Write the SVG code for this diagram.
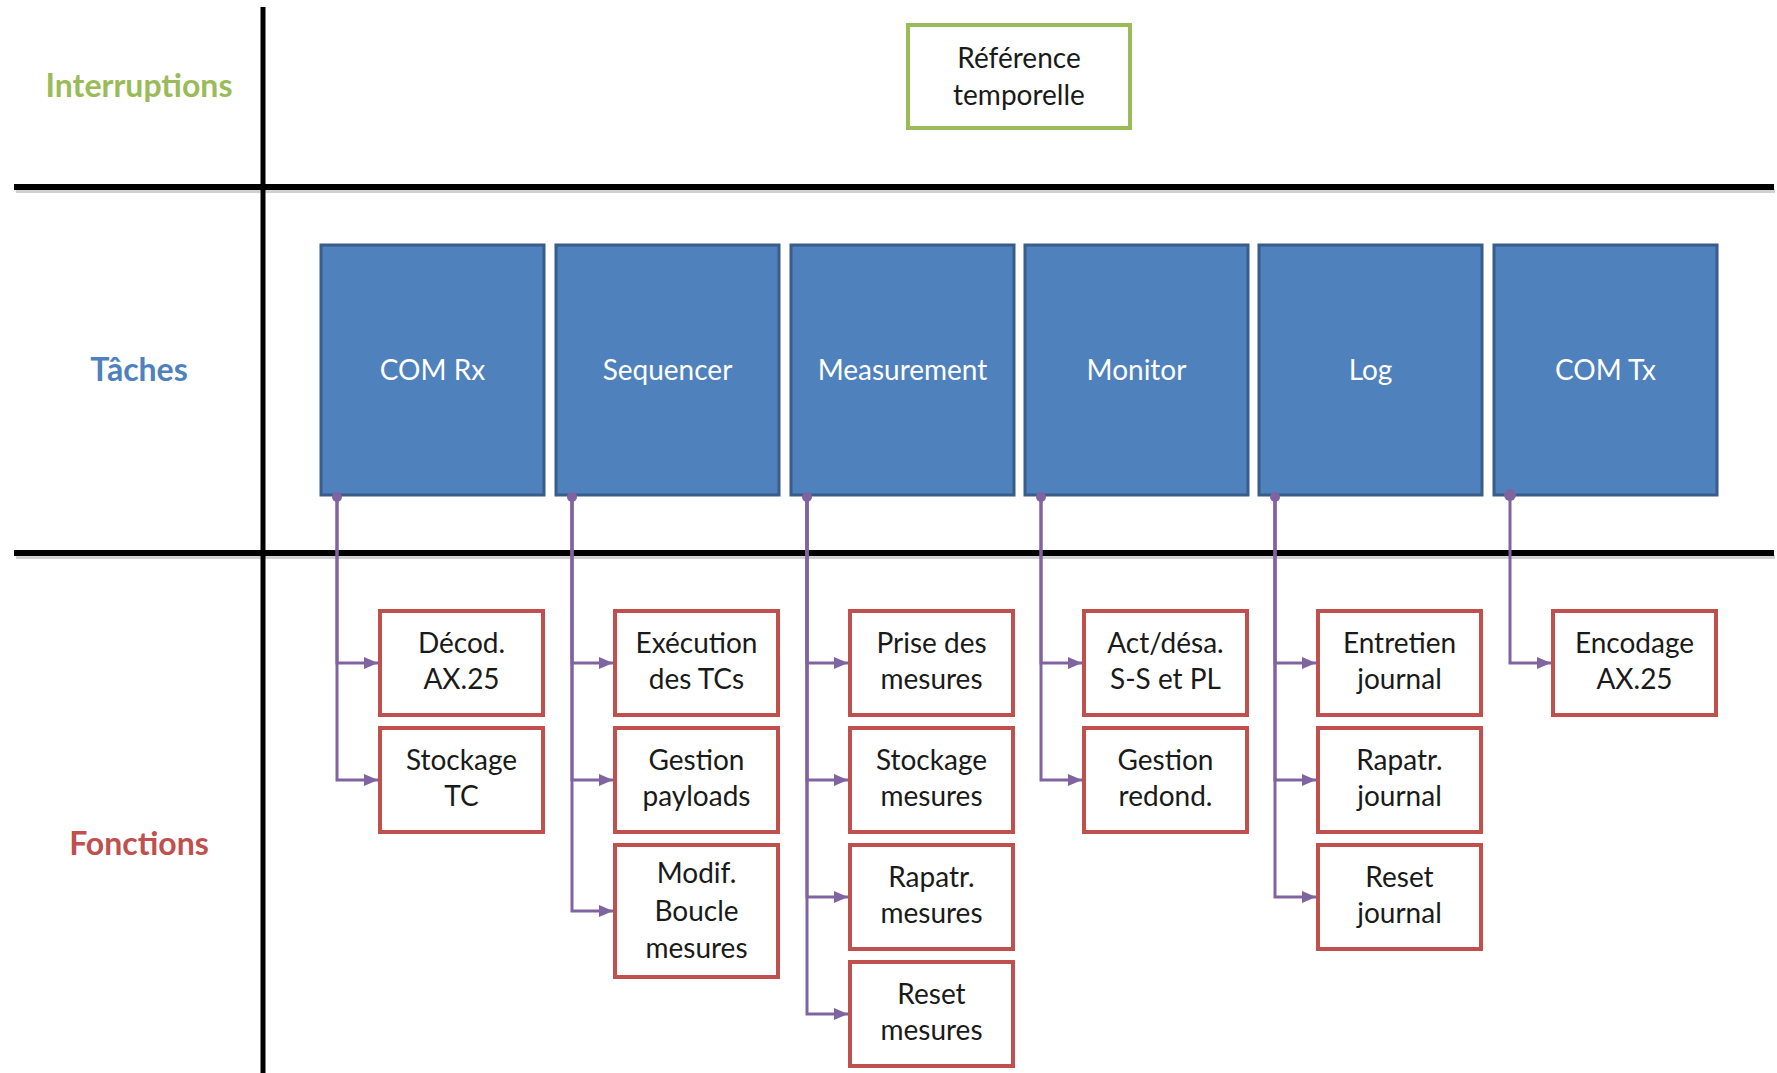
<svg xmlns="http://www.w3.org/2000/svg" width="1777" height="1073" viewBox="0 0 1777 1073">
<style>
  .grid { stroke:#000; stroke-width:6; fill:none; }
  .shadow { stroke:#9a9a9a; stroke-width:4; opacity:0.45; fill:none; }
  .lbl { font-family:Lato,"Liberation Sans",sans-serif; font-weight:bold; font-size:32px; text-anchor:middle; }
  .task rect { fill:#4F81BD; stroke:#385D8A; stroke-width:3; }
  .task text { fill:#fff; font-family:Lato,"Liberation Sans",sans-serif; font-size:28px; text-anchor:middle; }
  .fn rect { fill:#fff; stroke:#C0504D; stroke-width:4; }
  .fn text, .irq text { fill:#1a1a1a; font-family:Lato,"Liberation Sans",sans-serif; font-size:28px; text-anchor:middle; }
  .irq rect { fill:#fff; stroke:#9BBB59; stroke-width:4; }
  .conn path { stroke:#8064A2; stroke-width:3; fill:none; marker-end:url(#arr); }
  .conn circle { fill:#8064A2; }
</style>
<defs>
  <marker id="arr" viewBox="0 0 14 12" refX="14" refY="6" markerWidth="14" markerHeight="12" markerUnits="userSpaceOnUse" orient="auto">
    <path d="M0,0 L14,6 L0,12 z" fill="#8064A2"/>
  </marker>
</defs>
<rect width="1777" height="1073" fill="#fff"/>

<g id="grid">
  <line class="shadow" x1="16" y1="191" x2="1775" y2="191"/>
  <line class="shadow" x1="16" y1="557" x2="1775" y2="557"/>
  <line class="grid" x1="14" y1="187" x2="1774" y2="187"/>
  <line class="grid" x1="14" y1="553" x2="1774" y2="553"/>
  <line class="grid" x1="263" y1="7" x2="263" y2="1073" style="stroke-width:5"/>
</g>

<g id="labels">
  <text class="lbl" x="139" y="97" fill="#9BBB59">Interruptions</text>
  <text class="lbl" x="139" y="381" fill="#4F81BD">Tâches</text>
  <text class="lbl" x="139" y="855" fill="#C0504D">Fonctions</text>
</g>

<g id="ref-temporelle" class="irq">
  <rect x="908" y="25" width="222" height="103"/>
  <text x="1019" y="68">Référence</text>
  <text x="1019" y="105">temporelle</text>
</g>

<g id="connectors" class="conn">
  <path d="M337,495 V663 H378"/>
  <path d="M337,495 V780 H378"/>
  <path d="M572,495 V663 H613"/>
  <path d="M572,495 V780 H613"/>
  <path d="M572,495 V911 H613"/>
  <path d="M807,495 V663 H848"/>
  <path d="M807,495 V780 H848"/>
  <path d="M807,495 V897 H848"/>
  <path d="M807,495 V1014 H848"/>
  <path d="M1041,495 V663 H1082"/>
  <path d="M1041,495 V780 H1082"/>
  <path d="M1275,495 V663 H1316"/>
  <path d="M1275,495 V780 H1316"/>
  <path d="M1275,495 V897 H1316"/>
  <path d="M1510,495 V663 H1551"/>
</g>

<g id="task-comrx" class="task"><rect x="321" y="245" width="223" height="250"/><text x="432.5" y="380">COM Rx</text></g>
<g id="task-sequencer" class="task"><rect x="556" y="245" width="223" height="250"/><text x="667.5" y="380">Sequencer</text></g>
<g id="task-measurement" class="task"><rect x="791" y="245" width="223" height="250"/><text x="902.5" y="380">Measurement</text></g>
<g id="task-monitor" class="task"><rect x="1025" y="245" width="223" height="250"/><text x="1136.5" y="380">Monitor</text></g>
<g id="task-log" class="task"><rect x="1259" y="245" width="223" height="250"/><text x="1370.5" y="380">Log</text></g>
<g id="task-comtx" class="task"><rect x="1494" y="245" width="223" height="250"/><text x="1605.5" y="380">COM Tx</text></g>

<g id="dots" class="conn">
  <circle cx="337" cy="497" r="5"/>
  <circle cx="572" cy="497" r="5"/>
  <circle cx="807" cy="497" r="5"/>
  <circle cx="1041" cy="497" r="5"/>
  <circle cx="1275" cy="497" r="5"/>
  <circle cx="1510" cy="495" r="6"/>
</g>

<g id="fn-decod" class="fn"><rect x="380" y="611" width="163" height="104"/><text x="461.5" y="653">Décod.</text><text x="461.5" y="689">AX.25</text></g>
<g id="fn-stockage-tc" class="fn"><rect x="380" y="728" width="163" height="104"/><text x="461.5" y="770">Stockage</text><text x="461.5" y="806">TC</text></g>

<g id="fn-execution" class="fn"><rect x="615" y="611" width="163" height="104"/><text x="696.5" y="653">Exécution</text><text x="696.5" y="689">des TCs</text></g>
<g id="fn-gestion-payloads" class="fn"><rect x="615" y="728" width="163" height="104"/><text x="696.5" y="770">Gestion</text><text x="696.5" y="806">payloads</text></g>
<g id="fn-modif-boucle" class="fn"><rect x="615" y="845" width="163" height="132"/><text x="696.5" y="883">Modif.</text><text x="696.5" y="921">Boucle</text><text x="696.5" y="958">mesures</text></g>

<g id="fn-prise" class="fn"><rect x="850" y="611" width="163" height="104"/><text x="931.5" y="653">Prise des</text><text x="931.5" y="689">mesures</text></g>
<g id="fn-stockage-mesures" class="fn"><rect x="850" y="728" width="163" height="104"/><text x="931.5" y="770">Stockage</text><text x="931.5" y="806">mesures</text></g>
<g id="fn-rapatr-mesures" class="fn"><rect x="850" y="845" width="163" height="104"/><text x="931.5" y="887">Rapatr.</text><text x="931.5" y="923">mesures</text></g>
<g id="fn-reset-mesures" class="fn"><rect x="850" y="962" width="163" height="104"/><text x="931.5" y="1004">Reset</text><text x="931.5" y="1040">mesures</text></g>

<g id="fn-act-desa" class="fn"><rect x="1084" y="611" width="163" height="104"/><text x="1165.5" y="653">Act/désa.</text><text x="1165.5" y="689">S-S et PL</text></g>
<g id="fn-gestion-redond" class="fn"><rect x="1084" y="728" width="163" height="104"/><text x="1165.5" y="770">Gestion</text><text x="1165.5" y="806">redond.</text></g>

<g id="fn-entretien" class="fn"><rect x="1318" y="611" width="163" height="104"/><text x="1399.5" y="653">Entretien</text><text x="1399.5" y="689">journal</text></g>
<g id="fn-rapatr-journal" class="fn"><rect x="1318" y="728" width="163" height="104"/><text x="1399.5" y="770">Rapatr.</text><text x="1399.5" y="806">journal</text></g>
<g id="fn-reset-journal" class="fn"><rect x="1318" y="845" width="163" height="104"/><text x="1399.5" y="887">Reset</text><text x="1399.5" y="923">journal</text></g>

<g id="fn-encodage" class="fn"><rect x="1553" y="611" width="163" height="104"/><text x="1634.5" y="653">Encodage</text><text x="1634.5" y="689">AX.25</text></g>
</svg>
